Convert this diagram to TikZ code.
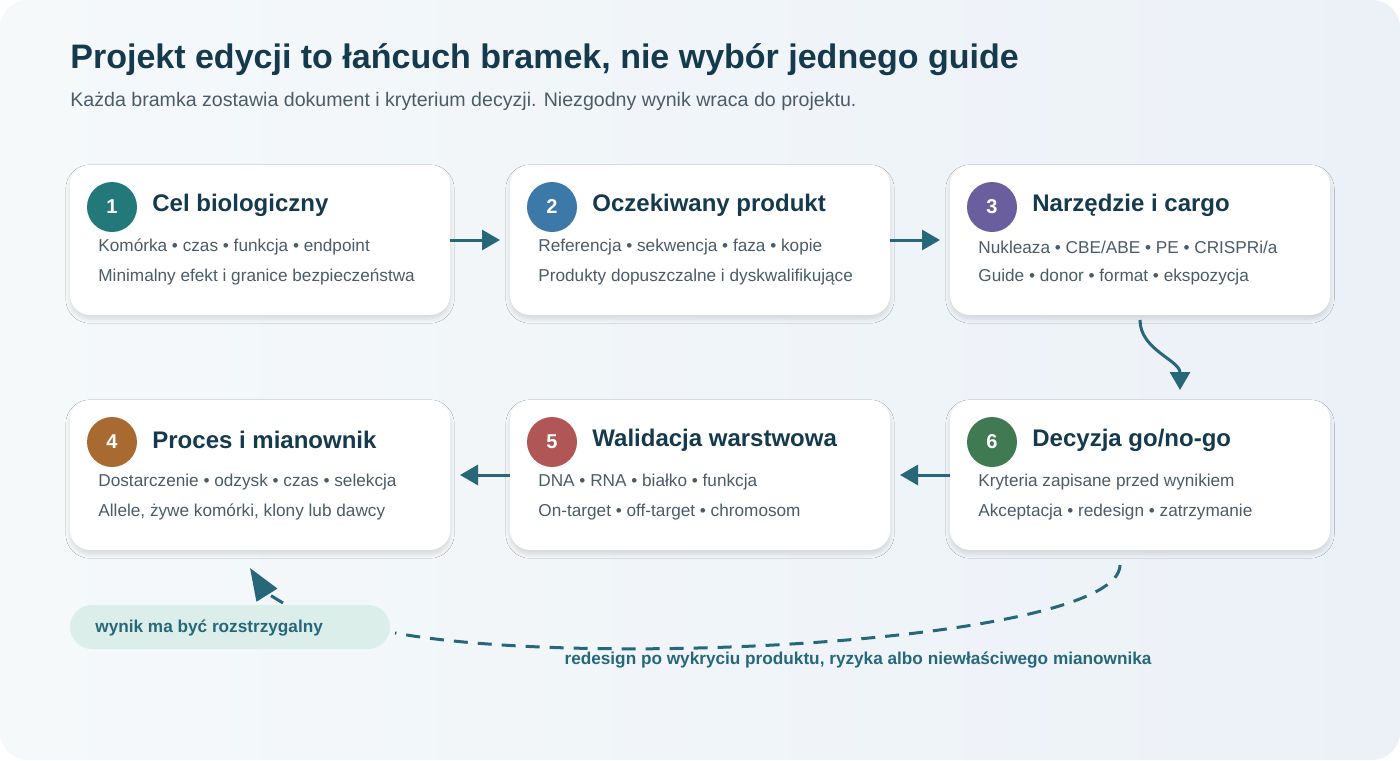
\documentclass[tikz,border=0pt]{standalone}
\usepackage{fontspec}
\setmainfont{Liberation Sans}
\usetikzlibrary{positioning,arrows.meta,shadows.blur}
\definecolor{ink}{HTML}{163A4D}
\definecolor{muted}{HTML}{4A5C68}
\definecolor{teal}{HTML}{26687A}
\definecolor{bgA}{HTML}{F5F9FA}
\definecolor{bgB}{HTML}{ECF1F8}
\definecolor{pill}{HTML}{DCEEEA}
\definecolor{cone}{HTML}{23797A}
\definecolor{ctwo}{HTML}{3C78A8}
\definecolor{cthree}{HTML}{6A5E9E}
\definecolor{cfour}{HTML}{A86A30}
\definecolor{cfive}{HTML}{B05657}
\definecolor{csix}{HTML}{3F7A52}
\tikzset{
  card/.style={rounded corners=10pt, fill=white, minimum width=190pt, minimum height=75pt,
    blur shadow={shadow blur steps=6, shadow xshift=0pt, shadow yshift=-2pt, shadow opacity=12}},
  num/.style={circle, fill=#1, minimum size=25pt, inner sep=0pt, text=white, font=\bfseries\fontsize{10}{12}\selectfont},
  head/.style={anchor=west, text=ink, font=\bfseries\fontsize{12}{14}\selectfont, inner sep=0pt},
  line/.style={anchor=west, text=muted, font=\fontsize{8.6}{10}\selectfont, inner sep=0pt},
  flow/.style={draw=teal, line width=1.5pt, -{Triangle[length=9pt,width=10pt]}},
}
\begin{document}
\begin{tikzpicture}[x=0.5pt, y=-0.5pt]
\shade[left color=bgA, right color=bgB, rounded corners=14pt] (0,0) rectangle (1400,760);
\useasboundingbox (0,0) rectangle (1400,760);

\node[anchor=west, text=ink, font=\bfseries\fontsize{17}{20}\selectfont, inner sep=0pt] (title) at (70,60)
  {Projekt edycji to łańcuch bramek, nie wybór jednego guide};
\node[anchor=west, text=muted, font=\fontsize{9.8}{12}\selectfont, inner sep=0pt] (sub) at (70,101)
  {Każda bramka zostawia dokument i kryterium decyzji. Niezgodny wynik wraca do projektu.};

% cards
\node[card] (c1) at (260,240) {};
\node[card] (c2) at (700,240) {};
\node[card] (c3) at (1140,240) {};
\node[card] (c4) at (260,475) {};
\node[card] (c5) at (700,475) {};
\node[card] (c6) at (1140,475) {};

\node[num=cone]   (n1) at (112,207) {1};
\node[num=ctwo]   (n2) at (552,207) {2};
\node[num=cthree] (n3) at (992,207) {3};
\node[num=cfour]  (n4) at (112,442) {4};
\node[num=cfive]  (n5) at (552,442) {5};
\node[num=csix]   (n6) at (992,442) {6};

\node[head] (h1) at (152,205) {Cel biologiczny};
\node[head] (h2) at (592,205) {Oczekiwany produkt};
\node[head] (h3) at (1032,205) {Narzędzie i cargo};
\node[head] (h4) at (152,440) {Proces i mianownik};
\node[head] (h5) at (592,440) {Walidacja warstwowa};
\node[head] (h6) at (1032,440) {Decyzja go/no-go};

\node[line] at (98,247) {Komórka • czas • funkcja • endpoint};
\node[line] at (98,277) {Minimalny efekt i granice bezpieczeństwa};
\node[line] at (538,247) {Referencja • sekwencja • faza • kopie};
\node[line] at (538,277) {Produkty dopuszczalne i dyskwalifikujące};
\node[line] at (978,247) {Nukleaza • CBE/ABE • PE • CRISPRi/a};
\node[line] at (978,277) {Guide • donor • format • ekspozycja};
\node[line] at (98,482) {Dostarczenie • odzysk • czas • selekcja};
\node[line] at (98,512) {Allele, żywe komórki, klony lub dawcy};
\node[line] at (538,482) {DNA • RNA • białko • funkcja};
\node[line] at (538,512) {On-target • off-target • chromosom};
\node[line] at (978,482) {Kryteria zapisane przed wynikiem};
\node[line] at (978,512) {Akceptacja • redesign • zatrzymanie};

% connectors
\coordinate (a1) at (500,240);
\coordinate (a2) at (940,240);
\coordinate (a5) at (460,475);
\coordinate (a6) at (900,475);
\coordinate (s3) at (1140,320);
\coordinate (e3) at (1180,390);
\draw[flow] (c1.east) -- (a1);
\draw[flow] (c2.east) -- (a2);
\draw[flow] (c5.west) -- (a5);
\draw[flow] (c6.west) -- (a6);
\draw[flow] (s3) .. controls (1140,350) and (1180,360) .. (e3);

% loop back
\node[fill=pill, rounded corners=11pt, minimum width=160pt, minimum height=22pt, inner sep=0pt] (tag) at (230,627) {};
\node[anchor=west, text=teal, font=\bfseries\fontsize{8.6}{10}\selectfont, inner sep=0pt] (tagt) at (95,628) {wynik ma być rozstrzygalny};
\coordinate (r0) at (1120,565);
\coordinate (r1) at (395,633);
\coordinate (r2) at (283,603);
\coordinate (r3) at (250,568);
\draw[teal, line width=1.5pt, dash pattern=on 7pt off 5pt] (r0) .. controls (1120,640) and (600,670) .. (r1);
\draw[teal, line width=1.5pt, dash pattern=on 7pt off 5pt, -{Triangle[length=16pt,width=12pt]}] (r2) .. controls (265,592) .. (r3);
\node[text=teal, font=\bfseries\fontsize{8.6}{10}\selectfont, inner sep=0pt] (rlab) at (858,660)
  {redesign po wykryciu produktu, ryzyka albo niewłaściwego mianownika};
\end{tikzpicture}
\end{document}
